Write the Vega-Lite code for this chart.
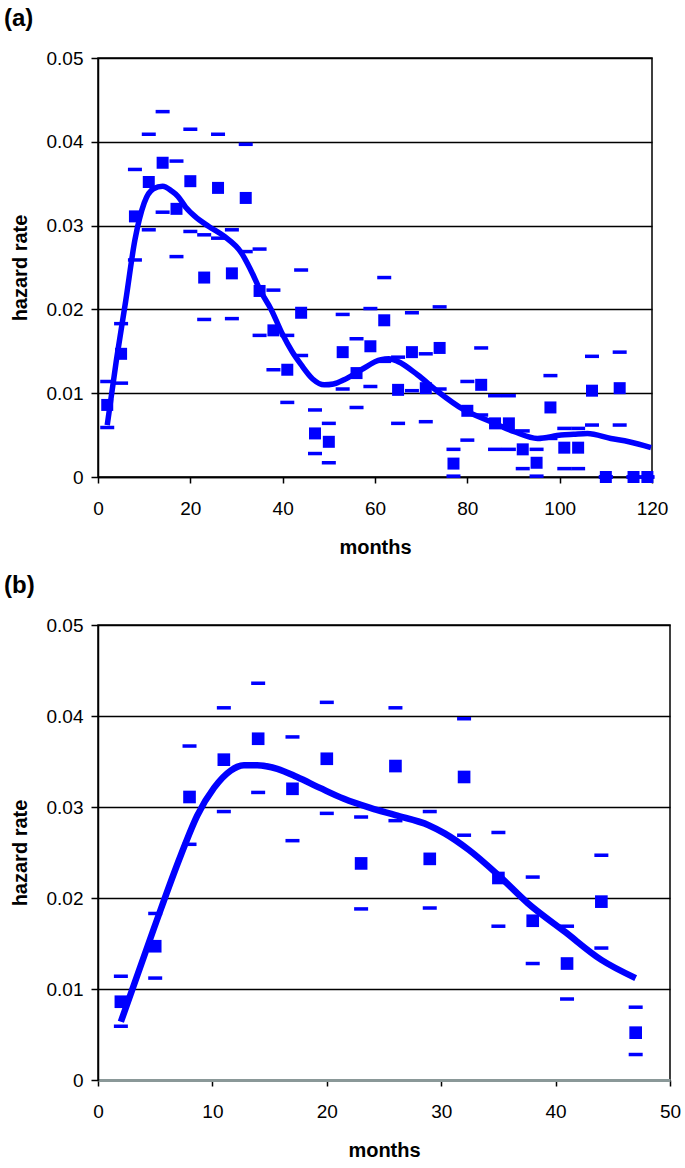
{
  "$schema": "https://vega.github.io/schema/vega-lite/v6.json",
  "padding": {"left": 3, "top": 6, "right": 0, "bottom": 0},
  "autosize": {"type": "pad"},
  "background": "white",
  "spacing": 15,
  "config": {
    "font": "Liberation Sans",
    "view": {"stroke": "black", "strokeWidth": 1.5},
    "axis": {
      "labelFont": "Liberation Sans", "labelFontSize": 19, "labelColor": "black",
      "titleFont": "Liberation Sans", "titleFontSize": 20, "titleFontWeight": "bold", "titleColor": "black",
      "domainColor": "black", "domainWidth": 1.5, "tickColor": "black", "tickWidth": 1.5,
      "gridColor": "black", "gridWidth": 1.6, "gridOpacity": 1
    },
    "title": {"font": "Liberation Sans", "fontSize": 24, "fontWeight": "bold", "anchor": "start", "frame": "bounds", "color": "black"}
  },
  "datasets": {
    "pts": [
      {"m": 2, "v": 0.0086, "lo": 0.0059, "hi": 0.0114},
      {"m": 5, "v": 0.0147, "lo": 0.0112, "hi": 0.0183},
      {"m": 8, "v": 0.0311, "lo": 0.0259, "hi": 0.0367},
      {"m": 11, "v": 0.0352, "lo": 0.0295, "hi": 0.0409},
      {"m": 14, "v": 0.0375, "lo": 0.0316, "hi": 0.0436},
      {"m": 17, "v": 0.0320, "lo": 0.0263, "hi": 0.0377},
      {"m": 20, "v": 0.0353, "lo": 0.0293, "hi": 0.0415},
      {"m": 23, "v": 0.0238, "lo": 0.0188, "hi": 0.0289},
      {"m": 26, "v": 0.0345, "lo": 0.0285, "hi": 0.0409},
      {"m": 29, "v": 0.0243, "lo": 0.0189, "hi": 0.0295},
      {"m": 32, "v": 0.0333, "lo": 0.0269, "hi": 0.0397},
      {"m": 35, "v": 0.0222, "lo": 0.0169, "hi": 0.0272},
      {"m": 38, "v": 0.0175, "lo": 0.0128, "hi": 0.0223},
      {"m": 41, "v": 0.0128, "lo": 0.0089, "hi": 0.0169},
      {"m": 44, "v": 0.0196, "lo": 0.0145, "hi": 0.0247},
      {"m": 47, "v": 0.0052, "lo": 0.0028, "hi": 0.0080},
      {"m": 50, "v": 0.0042, "lo": 0.0017, "hi": 0.0064},
      {"m": 53, "v": 0.0149, "lo": 0.0105, "hi": 0.0194},
      {"m": 56, "v": 0.0124, "lo": 0.0083, "hi": 0.0165},
      {"m": 59, "v": 0.0156, "lo": 0.0108, "hi": 0.0201},
      {"m": 62, "v": 0.0187, "lo": 0.0138, "hi": 0.0238},
      {"m": 65, "v": 0.0104, "lo": 0.0064, "hi": 0.0143},
      {"m": 68, "v": 0.0149, "lo": 0.0103, "hi": 0.0196},
      {"m": 71, "v": 0.0106, "lo": 0.0066, "hi": 0.0147},
      {"m": 74, "v": 0.0154, "lo": 0.0105, "hi": 0.0203},
      {"m": 77, "v": 0.0016, "lo": 0.0001, "hi": 0.0033},
      {"m": 80, "v": 0.0079, "lo": 0.0044, "hi": 0.0114},
      {"m": 83, "v": 0.0110, "lo": 0.0074, "hi": 0.0154},
      {"m": 86, "v": 0.0064, "lo": 0.0033, "hi": 0.0097},
      {"m": 89, "v": 0.0064, "lo": 0.0033, "hi": 0.0097},
      {"m": 92, "v": 0.0033, "lo": 0.0010, "hi": 0.0055},
      {"m": 95, "v": 0.0017, "lo": 0.0001, "hi": 0.0033},
      {"m": 98, "v": 0.0083, "lo": 0.0046, "hi": 0.0121},
      {"m": 101, "v": 0.0035, "lo": 0.0010, "hi": 0.0058},
      {"m": 104, "v": 0.0035, "lo": 0.0010, "hi": 0.0058},
      {"m": 107, "v": 0.0103, "lo": 0.0062, "hi": 0.0144},
      {"m": 110, "v": 0, "lo": 0, "hi": 0},
      {"m": 113, "v": 0.0106, "lo": 0.0062, "hi": 0.0149},
      {"m": 116, "v": 0, "lo": 0, "hi": 0},
      {"m": 119, "v": 0, "lo": 0, "hi": 0}
    ],
    "lineA": [
      {"m": 2, "v": 0.0062}, {"m": 4, "v": 0.0140}, {"m": 6, "v": 0.0210}, {"m": 8, "v": 0.0283},
      {"m": 10, "v": 0.0327}, {"m": 12, "v": 0.0344}, {"m": 14, "v": 0.0347}, {"m": 16, "v": 0.0341},
      {"m": 17.3, "v": 0.0335}, {"m": 19, "v": 0.0322}, {"m": 21, "v": 0.0311}, {"m": 24, "v": 0.0299},
      {"m": 27.4, "v": 0.0287}, {"m": 31, "v": 0.0268}, {"m": 33, "v": 0.0248}, {"m": 35.3, "v": 0.0221},
      {"m": 37.5, "v": 0.0200}, {"m": 40, "v": 0.0170}, {"m": 42, "v": 0.0150}, {"m": 44, "v": 0.0134},
      {"m": 46.5, "v": 0.0117}, {"m": 49, "v": 0.0110}, {"m": 51, "v": 0.0111}, {"m": 53.3, "v": 0.0116},
      {"m": 57, "v": 0.0128}, {"m": 61.3, "v": 0.0140}, {"m": 63, "v": 0.0141}, {"m": 64.9, "v": 0.0138},
      {"m": 69.2, "v": 0.0122}, {"m": 73.6, "v": 0.0102}, {"m": 79.3, "v": 0.0080}, {"m": 85.1, "v": 0.0066},
      {"m": 90.2, "v": 0.0054}, {"m": 95.2, "v": 0.0046}, {"m": 100.3, "v": 0.0050}, {"m": 103, "v": 0.0051},
      {"m": 106, "v": 0.0052}, {"m": 111.1, "v": 0.0046}, {"m": 115, "v": 0.0042}, {"m": 119.8, "v": 0.0035}
    ],
    "lineB": [
      {"m": 2, "v": 0.0064}, {"m": 4.9, "v": 0.0167}, {"m": 7.24, "v": 0.0247}, {"m": 8.69, "v": 0.0291},
      {"m": 10.14, "v": 0.0321}, {"m": 11.6, "v": 0.0340}, {"m": 12.76, "v": 0.0346}, {"m": 13.9, "v": 0.0346},
      {"m": 15.67, "v": 0.0342}, {"m": 17.4, "v": 0.0333}, {"m": 19.4, "v": 0.0321}, {"m": 21.5, "v": 0.0309},
      {"m": 23.8, "v": 0.0299}, {"m": 26, "v": 0.0291}, {"m": 28.9, "v": 0.0280}, {"m": 30.3, "v": 0.0271},
      {"m": 32.4, "v": 0.0253}, {"m": 35, "v": 0.0225}, {"m": 37.6, "v": 0.0194}, {"m": 40.8, "v": 0.0163},
      {"m": 44, "v": 0.0132}, {"m": 47, "v": 0.0112}
    ]
  },
  "vconcat": [
    {
      "title": {"text": "(a)", "offset": 18, "dx": -6},
      "width": 554,
      "height": 419,
      "encoding": {
        "x": {"field": "m", "type": "quantitative", "scale": {"domain": [0, 120], "nice": false, "zero": false},
          "axis": {"title": "months", "values": [0, 20, 40, 60, 80, 100, 120], "grid": false, "tickSize": 6, "labelPadding": 16, "titlePadding": 19, "labelFlush": false}}
      },
      "layer": [
        {
          "data": {"name": "pts"},
          "mark": {"type": "tick", "orient": "horizontal", "color": "#0000ff", "size": 14, "thickness": 3.5, "opacity": 1},
          "encoding": {"y": {"field": "hi", "type": "quantitative", "scale": {"domain": [0, 0.05], "nice": false},
            "axis": {"title": "hazard rate", "values": [0, 0.01, 0.02, 0.03, 0.04, 0.05], "grid": true, "tickSize": 7, "labelPadding": 8, "titlePadding": 16,
              "labelExpr": "datum.value == 0 ? '0' : format(datum.value, '.2f')"}}}
        },
        {
          "data": {"name": "pts"},
          "mark": {"type": "tick", "orient": "horizontal", "color": "#0000ff", "size": 14, "thickness": 3.5, "opacity": 1},
          "encoding": {"y": {"field": "lo", "type": "quantitative", "title": "hazard rate"}}
        },
        {
          "data": {"name": "pts"},
          "mark": {"type": "point", "shape": "square", "filled": true, "color": "#0000ff", "size": 144, "opacity": 1},
          "encoding": {"y": {"field": "v", "type": "quantitative", "title": "hazard rate"}}
        },
        {
          "data": {"name": "lineA"},
          "mark": {"type": "line", "color": "#0000ff", "strokeWidth": 5.5, "interpolate": "monotone"},
          "encoding": {"y": {"field": "v", "type": "quantitative", "title": "hazard rate"}}
        }
      ]
    },
    {
      "title": {"text": "(b)", "offset": 18, "dx": -6},
      "width": 572,
      "height": 455,
      "encoding": {
        "x": {"field": "m", "type": "quantitative", "scale": {"domain": [0, 50], "nice": false, "zero": false},
          "axis": {"title": "months", "values": [0, 10, 20, 30, 40, 50], "grid": false, "tickSize": 6, "labelPadding": 16, "titlePadding": 19, "labelFlush": false, "domainColor": "#8a9898", "domainWidth": 3}}
      },
      "layer": [
        {
          "data": {"name": "pts"},
          "transform": [{"filter": "datum.m <= 47"}],
          "mark": {"type": "tick", "orient": "horizontal", "color": "#0000ff", "size": 14, "thickness": 3.5, "opacity": 1},
          "encoding": {"y": {"field": "hi", "type": "quantitative", "scale": {"domain": [0, 0.05], "nice": false},
            "axis": {"title": "hazard rate", "values": [0, 0.01, 0.02, 0.03, 0.04, 0.05], "grid": true, "tickSize": 7, "labelPadding": 8, "titlePadding": 16,
              "labelExpr": "datum.value == 0 ? '0' : format(datum.value, '.2f')"}}}
        },
        {
          "data": {"name": "pts"},
          "transform": [{"filter": "datum.m <= 47"}],
          "mark": {"type": "tick", "orient": "horizontal", "color": "#0000ff", "size": 14, "thickness": 3.5, "opacity": 1},
          "encoding": {"y": {"field": "lo", "type": "quantitative", "title": "hazard rate"}}
        },
        {
          "data": {"name": "pts"},
          "transform": [{"filter": "datum.m <= 47"}],
          "mark": {"type": "point", "shape": "square", "filled": true, "color": "#0000ff", "size": 160, "opacity": 1},
          "encoding": {"y": {"field": "v", "type": "quantitative", "title": "hazard rate"}}
        },
        {
          "data": {"name": "lineB"},
          "mark": {"type": "line", "color": "#0000ff", "strokeWidth": 6.5, "interpolate": "monotone"},
          "encoding": {"y": {"field": "v", "type": "quantitative", "title": "hazard rate"}}
        }
      ]
    }
  ]
}
